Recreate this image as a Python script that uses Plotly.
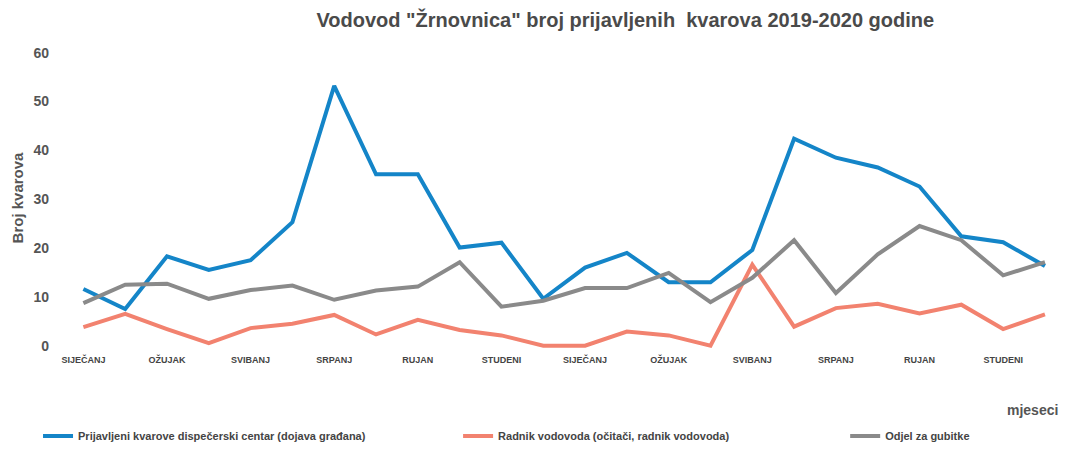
import plotly.graph_objects as go

months = list(range(24))
tick_positions = [0, 2, 4, 6, 8, 10, 12, 14, 16, 18, 20, 22]
tick_labels = ["SIJEČANJ", "OŽUJAK", "SVIBANJ", "SRPANJ", "RUJAN", "STUDENI",
               "SIJEČANJ", "OŽUJAK", "SVIBANJ", "SRPANJ", "RUJAN", "STUDENI"]

dispecerski = [11.6, 7.5, 18.3, 15.5, 17.5, 25.3, 53.2, 35.1, 35.1, 20.1, 21.1, 9.6,
               16.0, 19.0, 13.0, 13.0, 19.6, 42.4, 38.5, 36.5, 32.6, 22.4, 21.2, 16.3]
radnik = [3.8, 6.5, 3.4, 0.5, 3.6, 4.5, 6.3, 2.3, 5.3, 3.2, 2.1, 0.0,
          0.0, 2.9, 2.1, 0.0, 16.6, 3.9, 7.7, 8.6, 6.6, 8.4, 3.4, 6.4]
gubitci = [8.7, 12.5, 12.7, 9.6, 11.4, 12.3, 9.4, 11.3, 12.1, 17.1, 8.0, 9.2,
           11.8, 11.8, 14.9, 8.9, 13.9, 21.6, 10.8, 18.7, 24.5, 21.6, 14.4, 17.1]

names = ["Prijavljeni kvarove dispečerski centar (dojava građana)",
         "Radnik vodovoda (očitači, radnik vodovoda)",
         "Odjel za gubitke"]
colors = ["#1485c8", "#f2826f", "#8a8a8a"]
legend_ids = ["legend", "legend2", "legend3"]

fig = go.Figure()
for name, vals, col, lg in zip(names, [dispecerski, radnik, gubitci], colors, legend_ids):
    fig.add_trace(go.Scatter(x=months, y=vals, mode="lines", name=name,
                             line=dict(color=col, width=4), legend=lg))

legend_font = dict(family="Liberation Sans", size=11, color="#444", weight="bold")
legend_common = dict(orientation="h", xanchor="left", yref="container", y=0.031,
                     yanchor="middle", font=legend_font, itemwidth=30,
                     bgcolor="rgba(0,0,0,0)")

fig.update_layout(
    width=1080, height=450,
    paper_bgcolor="white", plot_bgcolor="white",
    margin=dict(l=70, r=20, t=43, b=97, autoexpand=False),
    title=dict(text='Vodovod "Žrnovnica" broj prijavljenih  kvarova 2019-2020 godine',
               x=0.579, xanchor="center", y=0.955, yanchor="middle",
               yref="container",
               font=dict(family="Liberation Sans", size=20, color="#4a4a4a", weight="bold")),
    xaxis=dict(range=[-0.32, 23.36], tickvals=tick_positions, ticktext=tick_labels,
               showgrid=False, zeroline=False, showline=False, ticks="",
               tickfont=dict(family="Liberation Sans", size=9, color="#444", weight="bold")),
    yaxis=dict(range=[-1.5, 62], tickvals=[0, 10, 20, 30, 40, 50, 60],
               showgrid=False, zeroline=False, showline=False, ticks="",
               ticklabelstandoff=20,
               tickfont=dict(family="Liberation Sans", size=14, color="#555", weight="bold"),
               title=dict(text="Broj kvarova", standoff=6,
                          font=dict(family="Liberation Sans", size=15, color="#555", weight="bold"))),
    legend=dict(x=-0.0323, **legend_common),
    legend2=dict(x=0.392, **legend_common),
    legend3=dict(x=0.783, **legend_common),
    showlegend=True,
)

fig.add_annotation(text="mjeseci", xref="paper", yref="paper", x=1.0, y=-0.185,
                   xanchor="right", yanchor="middle", showarrow=False,
                   font=dict(family="Liberation Sans", size=14, color="#555", weight="bold"))

fig.write_html("out.html", config={"displayModeBar": False},
               post_script="document.body.style.margin='0';document.body.style.overflow='hidden';")
